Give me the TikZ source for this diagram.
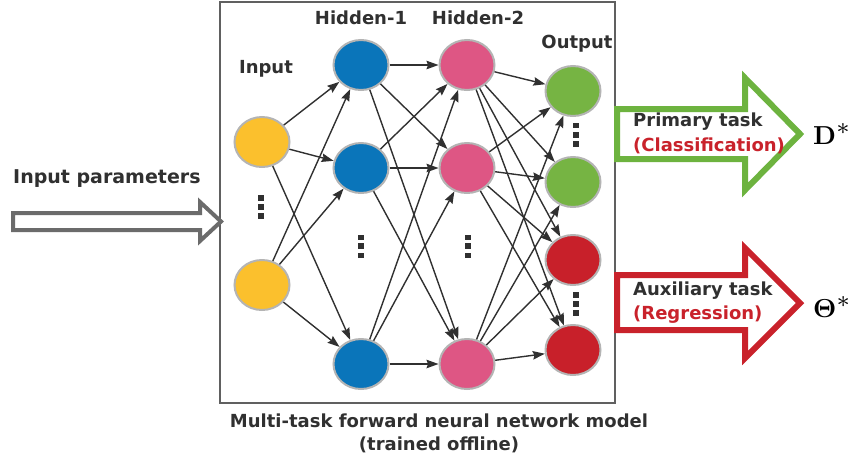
\documentclass[tikz,border=0pt]{standalone}
\usepackage[no-math]{fontspec}
\setmainfont{DejaVu Sans}
\usetikzlibrary{shapes.geometric,arrows.meta}
\definecolor{txt}{HTML}{303030}
\definecolor{nyel}{HTML}{FBC02D}
\definecolor{nblue}{HTML}{0A75BA}
\definecolor{npink}{HTML}{DE5684}
\definecolor{ngreen}{HTML}{76B443}
\definecolor{nred}{HTML}{C8202A}
\definecolor{agreen}{HTML}{6DB33F}
\definecolor{ared}{HTML}{C9222B}
\definecolor{agray}{HTML}{6B6B6B}
\definecolor{nborder}{HTML}{B4B4B4}
\begin{document}
\begin{tikzpicture}[x=1pt,y=-1pt,
  neuron/.style={ellipse,draw=nborder,line width=2pt,minimum width=55pt,minimum height=50pt,inner sep=0pt},
  lbl/.style={text=txt,font=\bfseries\fontsize{18}{23}\selectfont,inner sep=0pt},
  redlbl/.style={text=ared,font=\bfseries\fontsize{18}{23}\selectfont,inner sep=0pt},
  edge/.style={draw=txt,line width=1.4pt,-{Stealth[length=12pt,width=8.5pt,inset=1.5pt]}},
  bigarrow/.style={line width=6pt,miter limit=10,fill=white},
  sym/.style={inner sep=0pt,anchor=base west},
  dot/.style={fill=txt}]
\useasboundingbox (0,0) rectangle (859,461);
% model box
\draw[draw=agray!90!black,line width=1.2pt] (220,2) rectangle (615,403);
% neurons
\node[neuron,fill=nyel] (i1) at (262,142) {};
\node[neuron,fill=nyel] (i2) at (262,285) {};
\node[neuron,fill=nblue] (a1) at (361,65) {};
\node[neuron,fill=nblue] (a2) at (361,168) {};
\node[neuron,fill=nblue] (a3) at (361,364) {};
\node[neuron,fill=npink] (b1) at (467,65) {};
\node[neuron,fill=npink] (b2) at (467,168) {};
\node[neuron,fill=npink] (b3) at (467,364) {};
\node[neuron,fill=ngreen] (o1) at (573,91) {};
\node[neuron,fill=ngreen] (o2) at (573,182) {};
\node[neuron,fill=nred] (o3) at (573,260) {};
\node[neuron,fill=nred] (o4) at (573,350) {};
% edges
\foreach \s in {i1,i2}{\foreach \t in {a1,a2,a3}{\draw[edge] (\s) -- (\t);}}
\foreach \s in {a1,a2,a3}{\foreach \t in {b1,b2,b3}{\draw[edge] (\s) -- (\t);}}
\foreach \s in {b1,b2,b3}{\foreach \t in {o1,o2,o3,o4}{\draw[edge] (\s) -- (\t);}}
% vertical dots
\foreach \x/\y in {261/198,261/207,261/216,361/237.5,361/246,361/255.5,468/237.5,468/246,468/255.5,576/125.5,576/135,576/144,576/295,576/304,576/313}
  {\fill[dot] (\x-2.8,\y-2.8) rectangle (\x+2.8,\y+2.8);}
% layer labels
\node[lbl] (lin) at (266,69) {Input};
\node[lbl] (lh1) at (361,18) {Hidden-1};
\node[lbl] (lh2) at (478,18) {Hidden-2};
\node[lbl] (lout) at (577,44) {Output};
% input arrow
\draw[draw=agray,line width=4pt,fill=white] (13,213) -- (200,213) -- (200,202) -- (221,221.5) -- (200,241) -- (200,230) -- (13,230) -- cycle;
\node[lbl,anchor=west,font=\bfseries\fontsize{19}{23}\selectfont] (lpar) at (13,179) {Input parameters};
% output arrows
\draw[bigarrow,draw=agreen] (617,109) -- (745,109) -- (745,78) -- (800,134) -- (745,190) -- (745,159) -- (617,159) -- cycle;
\draw[bigarrow,draw=ared] (617,275) -- (745,275) -- (745,248) -- (800,303) -- (745,358) -- (745,330) -- (617,330) -- cycle;
\node[lbl,anchor=west] (lprim) at (633,122) {Primary task};
\node[redlbl,anchor=west] (lcls) at (633,146) {(Classification)};
\node[lbl,anchor=west] (laux) at (633,291) {Auxiliary task};
\node[redlbl,anchor=west] (lreg) at (633,315) {(Regression)};
\node[sym] (dstar) at (813,144) {\scalebox{2.6}{$\mathbf{D}^{\scalebox{1.3}{$\scriptstyle *$}}$}};
\node[sym] (tstar) at (813,317) {\scalebox{2.6}{$\mathbf{\Theta}^{\scalebox{1.3}{$\scriptstyle *$}}$}};
% caption
\node[lbl,align=center,font=\bfseries\fontsize{18}{23}\selectfont] (cap) at (439,433) {Multi-task forward neural network model\\(trained offline)};
\end{tikzpicture}
\end{document}
